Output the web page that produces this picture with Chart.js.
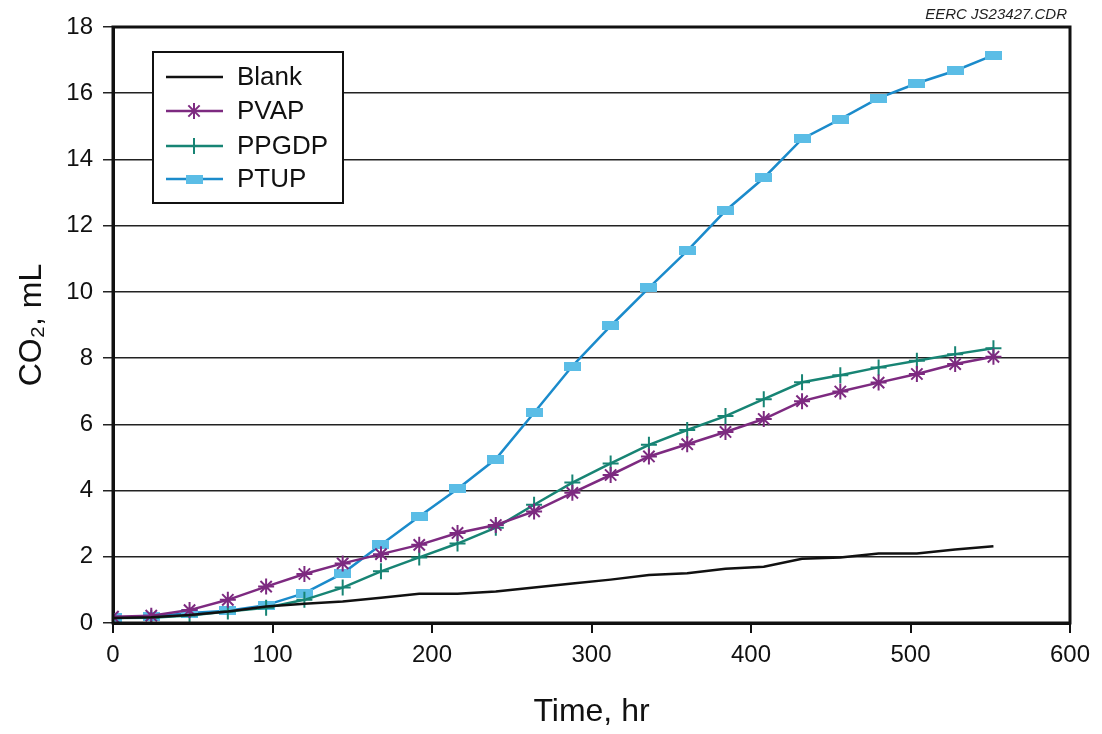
<!DOCTYPE html>
<html>
<head>
<meta charset="utf-8">
<script src="https://cdn.jsdelivr.net/npm/chart.js@4.4.1/dist/chart.umd.min.js"></script>
<style>
  html, body { margin: 0; padding: 0; background: #fff; }
  canvas { display: block; }
</style>
</head>
<body>
<canvas id="co2Chart" width="1102" height="734"></canvas>
<script>
// CO2 evolution vs time
const hours = [0, 24, 48, 72, 96, 120, 144, 168, 192, 216, 240, 264, 288, 312, 336, 360, 384, 408, 432, 456, 480, 504, 528, 552];
const blank = [0.15, 0.17, 0.24, 0.35, 0.5, 0.58, 0.65, 0.76, 0.88, 0.88, 0.95, 1.07, 1.19, 1.31, 1.45, 1.5, 1.64, 1.7, 1.94, 1.98, 2.1, 2.1, 2.22, 2.32];
const pvap = [0.19, 0.22, 0.39, 0.7, 1.1, 1.48, 1.8, 2.08, 2.36, 2.72, 2.96, 3.37, 3.93, 4.47, 5.03, 5.4, 5.77, 6.16, 6.7, 6.99, 7.26, 7.52, 7.82, 8.04];
const ppgdp = [0.15, 0.16, 0.23, 0.35, 0.46, 0.7, 1.07, 1.56, 1.98, 2.4, 2.88, 3.57, 4.24, 4.82, 5.38, 5.83, 6.25, 6.76, 7.27, 7.48, 7.72, 7.92, 8.12, 8.3];
const ptup = [0.16, 0.19, 0.3, 0.37, 0.54, 0.9, 1.5, 2.36, 3.22, 4.05, 4.95, 6.35, 7.76, 8.97, 10.12, 11.24, 12.45, 13.44, 14.62, 15.22, 15.85, 16.3, 16.68, 17.15];
const seriesNames = ["Blank", "PVAP", "PPGDP", "PTUP"];

const FONT = "'Liberation Sans', Arial, Helvetica, sans-serif";

const toPoints = vals => vals.map((v, i) => ({ x: hours[i], y: v }));

// flat light-blue bar used as the PTUP marker
const ptupMark = document.createElement("canvas");
ptupMark.width = 17;
ptupMark.height = 9;
(() => {
  const c = ptupMark.getContext("2d");
  c.fillStyle = "#5bbde6";
  c.fillRect(0, 0, 17, 9);
})();

const whiteBg = {
  id: "whiteBg",
  beforeDraw(chart) {
    const c = chart.ctx;
    c.save();
    c.fillStyle = "#fff";
    c.fillRect(0, 0, chart.width, chart.height);
    c.restore();
  }
};

const frameAndLegend = {
  id: "frameAndLegend",
  afterDraw(chart) {
    const c = chart.ctx;
    const a = chart.chartArea;
    c.save();
    // plot frame
    c.strokeStyle = "#111";
    c.lineWidth = 3;
    c.strokeRect(a.left, a.top, a.right - a.left, a.bottom - a.top);

    // file tag top right
    c.fillStyle = "#222";
    c.font = "italic 15px " + FONT;
    c.textAlign = "right";
    c.textBaseline = "middle";
    c.fillText("EERC JS23427.CDR", 1067, 15);

    // legend box
    const bx = 153, by = 52, bw = 190, bh = 151;
    c.fillStyle = "#fff";
    c.fillRect(bx, by, bw, bh);
    c.lineWidth = 2;
    c.strokeStyle = "#111";
    c.strokeRect(bx, by, bw, bh);
    const rows = [77, 111, 146, 179];
    chart.data.datasets.forEach((ds, i) => {
      const y = rows[i];
      c.strokeStyle = ds.borderColor;
      c.lineWidth = ds.borderWidth;
      c.beginPath();
      c.moveTo(166, y);
      c.lineTo(223, y);
      c.stroke();
      if (ds.pointRadius > 0) {
        c.strokeStyle = ds.pointBorderColor;
        c.fillStyle = ds.pointBackgroundColor;
        c.lineWidth = ds.pointBorderWidth;
        Chart.helpers.drawPoint(c, {
          pointStyle: ds.pointStyle,
          radius: ds.pointRadius,
          rotation: 0,
          borderWidth: ds.pointBorderWidth
        }, 194, y);
      }
      c.fillStyle = "#111";
      c.font = "26px " + FONT;
      c.textAlign = "left";
      c.textBaseline = "middle";
      c.fillText(ds.label, 237, y + 1);
    });
    c.restore();
  }
};

new Chart(document.getElementById("co2Chart").getContext("2d"), {
  type: "line",
  data: {
    datasets: [
      { label: seriesNames[0], data: toPoints(blank), borderColor: "#111", borderWidth: 2.5, pointRadius: 0, pointStyle: false, tension: 0 },
      { label: seriesNames[1], data: toPoints(pvap), borderColor: "#7d2a80", borderWidth: 2.5, pointStyle: "star", pointRadius: 8, pointBorderColor: "#7d2a80", pointBackgroundColor: "#7d2a80", pointBorderWidth: 2, tension: 0 },
      { label: seriesNames[2], data: toPoints(ppgdp), borderColor: "#178474", borderWidth: 2.5, pointStyle: "cross", pointRadius: 8, pointBorderColor: "#178474", pointBackgroundColor: "#178474", pointBorderWidth: 2, tension: 0 },
      { label: seriesNames[3], data: toPoints(ptup), borderColor: "#1b8bcb", borderWidth: 2.5, pointStyle: ptupMark, pointRadius: 8, pointBorderColor: "#5bbde6", pointBackgroundColor: "#5bbde6", pointBorderWidth: 0, tension: 0 }
    ]
  },
  options: {
    responsive: false,
    animation: false,
    devicePixelRatio: 1,
    layout: { padding: { left: 0, right: 32, top: 27, bottom: 0 } },
    plugins: { legend: { display: false }, tooltip: { enabled: false } },
    scales: {
      x: {
        type: "linear",
        min: 0,
        max: 600,
        ticks: { stepSize: 100, color: "#111", font: { family: FONT, size: 24 }, padding: 8, maxRotation: 0 },
        grid: { drawOnChartArea: false, drawTicks: true, tickLength: 10, color: "#111", lineWidth: 2 },
        border: { display: true, color: "#111", width: 3 },
        title: { display: true, text: "Time, hr", color: "#111", font: { family: FONT, size: 32 }, padding: { top: 0, bottom: 3 } },
        afterFit(scale) { scale.height = 111; }
      },
      y: {
        min: 0,
        max: 18,
        ticks: { stepSize: 2, color: "#111", font: { family: FONT, size: 24 }, padding: 10 },
        grid: { drawTicks: true, tickLength: 10, color: "#222", lineWidth: 1.5 },
        border: { display: true, color: "#111", width: 3 },
        title: { display: true, text: "CO₂, mL", color: "#111", font: { family: FONT, size: 32 }, padding: { top: 13, bottom: 0 } },
        afterFit(scale) { scale.width = 113; }
      }
    }
  },
  plugins: [whiteBg, frameAndLegend]
});
</script>
</body>
</html>
